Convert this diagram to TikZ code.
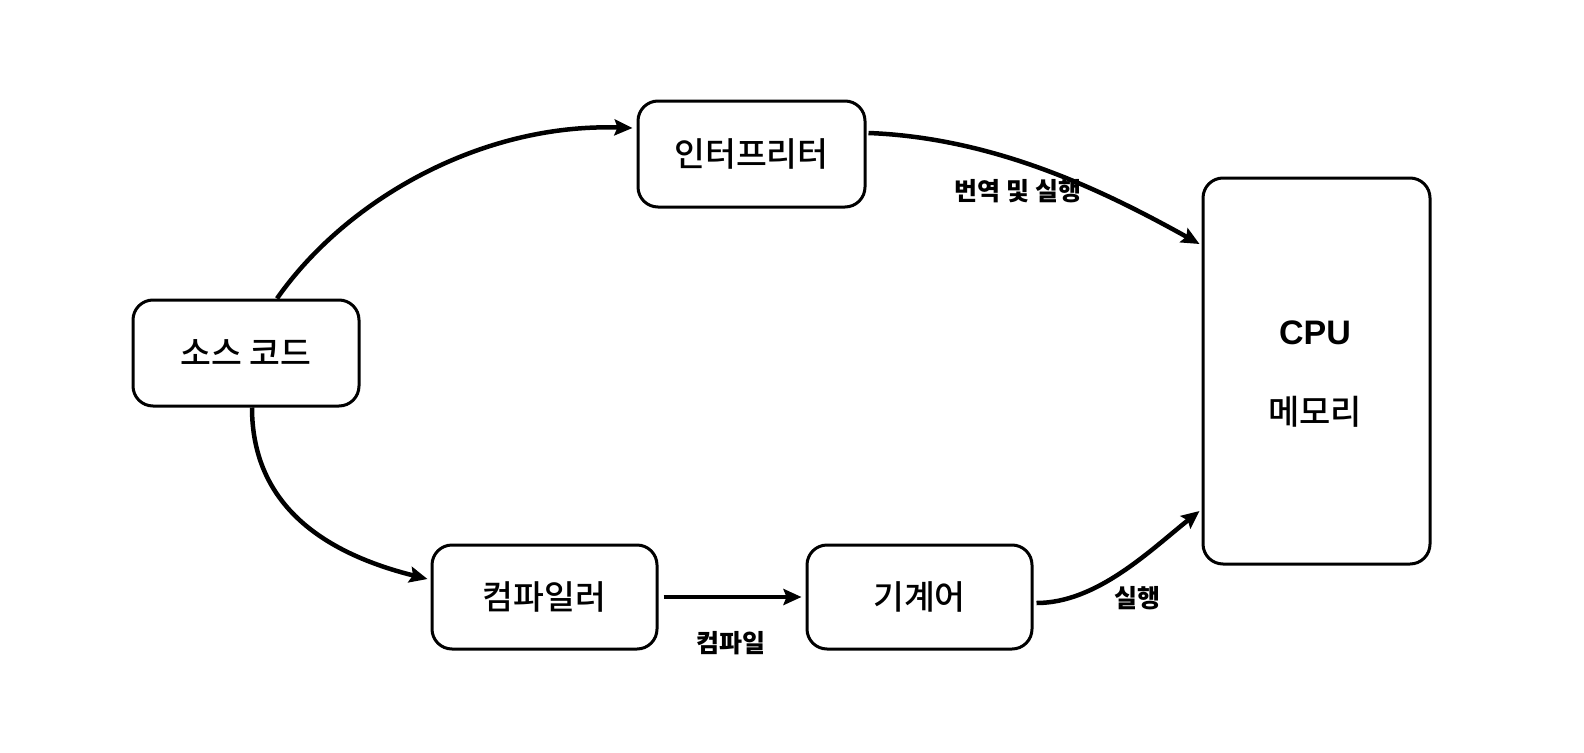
\documentclass[tikz,border=0pt]{standalone}
\usepackage{fontspec}
\setmainfont{Noto Sans CJK KR}
\newfontfamily\krmed{Noto Sans CJK KR Medium}
\newfontfamily\latinf{Liberation Sans}
\usetikzlibrary{arrows.meta}
\tikzset{
  box/.style={draw=black, line width=3pt, rounded corners=20pt, fill=white, inner sep=0pt, font=\krmed\fontsize{33.5}{40}\selectfont},
  conn/.style={line width=4.5pt, -{Stealth[length=18pt,width=16pt,inset=3pt]}},
  lbl/.style={font=\fontsize{25}{30}\selectfont\bfseries, inner sep=0pt}
}
\begin{document}
\begin{tikzpicture}[x=1pt,y=-1pt]
\useasboundingbox (0,0) rectangle (1584,752);
\node[box, minimum width=226pt, minimum height=106pt] (src) at (246,353) {소스 코드};
\node[box, minimum width=227pt, minimum height=106pt] (int) at (751.5,154) {인터프리터};
\node[box, minimum width=225pt, minimum height=104pt] (comp) at (544.5,597) {컴파일러};
\node[box, minimum width=225pt, minimum height=104pt] (mach) at (919.5,597) {기계어};
\node[box, minimum width=227pt, minimum height=386pt] (cpu) at (1316.5,371) {};
\node[font=\latinf\fontsize{34}{40}\selectfont\bfseries] (cputxt) at (1315,333) {CPU};
\node[font=\krmed\fontsize{34}{40}\selectfont] (memtxt) at (1315,412) {메모리};

\draw[conn] ([xshift=31pt]src.north) .. controls +(70,-100) and +(-150,-5) .. ([xshift=-4pt,yshift=26pt]int.west);
\draw[conn] ([xshift=2pt,yshift=21pt]int.east) .. controls +(130,5) and +(-90,-50) .. ([xshift=-2pt,yshift=127pt]cpu.west);
\draw[conn] ([xshift=6pt]src.south) .. controls +(0,100) and +(-100,-25) .. ([xshift=-3pt,yshift=18pt]comp.west);
\draw[conn, shorten <=5pt, shorten >=4pt] (comp.east) -- (mach.west);
\draw[conn] ([xshift=3pt,yshift=-6pt]mach.east) .. controls +(60,0) and +(-50,40) .. ([xshift=-2pt,yshift=-140pt]cpu.west);

\node[lbl] (l1) at (1018,191) {번역 및 실행};
\node[lbl] (l2) at (731,643) {컴파일};
\node[lbl] (l3) at (1137,598) {실행};
\end{tikzpicture}
\end{document}
